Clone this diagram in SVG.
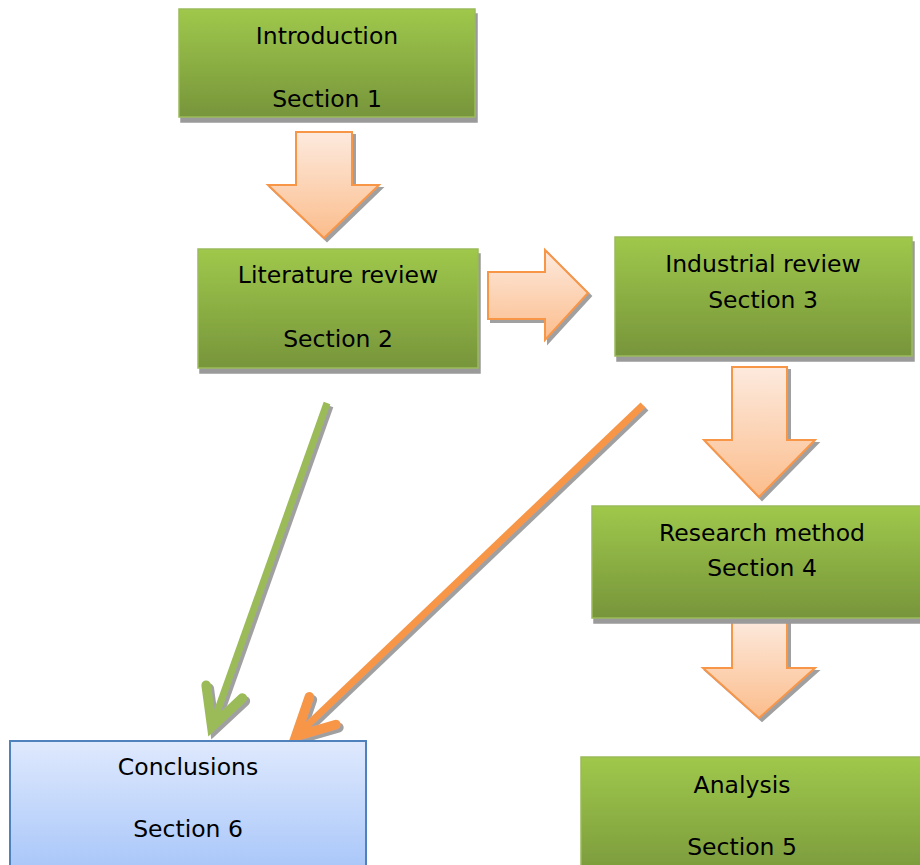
<svg xmlns="http://www.w3.org/2000/svg" width="920" height="865" viewBox="0 0 920 865">
  <defs>
    <linearGradient id="gGreen" x1="0" y1="0" x2="0" y2="1">
      <stop offset="0" stop-color="#9fc84b"/>
      <stop offset="1" stop-color="#77953b"/>
    </linearGradient>
    <linearGradient id="gBlue" x1="0" y1="0" x2="0" y2="1">
      <stop offset="0" stop-color="#dfe9fd"/>
      <stop offset="1" stop-color="#a6c5f9"/>
    </linearGradient>
    <linearGradient id="gPeach" x1="0" y1="0" x2="0" y2="1">
      <stop offset="0" stop-color="#fdeade"/>
      <stop offset="1" stop-color="#fbbd8c"/>
    </linearGradient>
    <filter id="shadow" x="-10%" y="-10%" width="130%" height="130%">
      <feOffset in="SourceAlpha" dx="2" dy="5" result="o"/>
      <feFlood flood-color="#9a9a9a"/>
      <feComposite in2="o" operator="in" result="s"/>
      <feMerge><feMergeNode in="s"/><feMergeNode in="SourceGraphic"/></feMerge>
    </filter>
    <filter id="lshadow" x="-20%" y="-20%" width="140%" height="140%">
      <feOffset in="SourceAlpha" dx="3" dy="3" result="o"/>
      <feFlood flood-color="#a0a0a0"/>
      <feComposite in2="o" operator="in" result="s"/>
      <feMerge><feMergeNode in="s"/><feMergeNode in="SourceGraphic"/></feMerge>
    </filter>
    <marker id="headG" markerUnits="userSpaceOnUse" markerWidth="60" markerHeight="60" viewBox="-40 -25 50 50" refX="0" refY="0" orient="auto" overflow="visible">
      <path d="M-33,-16 L-2,0 L-33,16" fill="none" stroke="#9bbb59" stroke-width="8" stroke-linecap="round" stroke-linejoin="miter"/>
    </marker>
    <marker id="headO" markerUnits="userSpaceOnUse" markerWidth="60" markerHeight="60" viewBox="-40 -25 50 50" refX="0" refY="0" orient="auto" overflow="visible">
      <path d="M-33,-16 L-2,0 L-33,16" fill="none" stroke="#f79646" stroke-width="8" stroke-linecap="round" stroke-linejoin="miter"/>
    </marker>
    <style>
      .box { fill: url(#gGreen); stroke: #9bbb59; stroke-width: 1.5; }
      .concl { fill: url(#gBlue); stroke: #4f81bd; stroke-width: 2; }
      .block { fill: url(#gPeach); stroke: #f79646; stroke-width: 2; stroke-linejoin: miter; }
      .lbl { font-family: "DejaVu Sans", "Liberation Sans", sans-serif; font-size: 23.5px; fill: #000; text-anchor: middle; }
      .lineG { stroke: #9bbb59; stroke-width: 7; fill: none; }
      .lineO { stroke: #f79646; stroke-width: 7; fill: none; }
    </style>
  </defs>

  <g id="connectors">
    <polygon class="block" filter="url(#lshadow)" points="296,132 352,132 352,185 379,185 324,238 268,185 296,185"/>
    <polygon class="block" filter="url(#lshadow)" points="488,272 545,272 545,250 588,293 545,340 545,319 488,319"/>
    <polygon class="block" filter="url(#lshadow)" points="732,367 787,367 787,440 815,440 759,497 704,440 732,440"/>
    <polygon class="block" filter="url(#lshadow)" points="732,618 787,618 787,668 815,668 759,718 703,668 732,668"/>
    <g filter="url(#lshadow)">
      <line class="lineG" x1="327" y1="403" x2="211" y2="729" marker-end="url(#headG)"/>
    </g>
    <g filter="url(#lshadow)">
      <line class="lineO" x1="643" y1="405" x2="294" y2="738" marker-end="url(#headO)"/>
    </g>
    <g filter="url(#lshadow)">
      <line class="lineG" x1="575" y1="819" x2="383" y2="819" marker-end="url(#headG)"/>
    </g>
  </g>

  <g id="introduction">
    <rect class="box" filter="url(#shadow)" x="179" y="9" width="296" height="108"/>
    <text class="lbl" x="327" y="44">Introduction</text>
    <text class="lbl" x="327" y="107">Section 1</text>
  </g>
  <g id="literature">
    <rect class="box" filter="url(#shadow)" x="198" y="249" width="280" height="119"/>
    <text class="lbl" x="338" y="283">Literature review</text>
    <text class="lbl" x="338" y="347">Section 2</text>
  </g>
  <g id="industrial">
    <rect class="box" filter="url(#shadow)" x="615" y="237" width="297" height="119"/>
    <text class="lbl" x="763" y="272">Industrial review</text>
    <text class="lbl" x="763" y="308">Section 3</text>
  </g>
  <g id="research">
    <rect class="box" filter="url(#shadow)" x="592" y="506" width="340" height="112"/>
    <text class="lbl" x="762" y="541">Research method</text>
    <text class="lbl" x="762" y="576">Section 4</text>
  </g>
  <g id="analysis">
    <rect class="box" filter="url(#shadow)" x="581" y="757" width="345" height="130"/>
    <text class="lbl" x="742" y="793">Analysis</text>
    <text class="lbl" x="742" y="855">Section 5</text>
  </g>
  <g id="conclusions">
    <rect class="concl" x="10" y="741" width="356" height="135"/>
    <text class="lbl" x="188" y="775">Conclusions</text>
    <text class="lbl" x="188" y="837">Section 6</text>
  </g>
</svg>
